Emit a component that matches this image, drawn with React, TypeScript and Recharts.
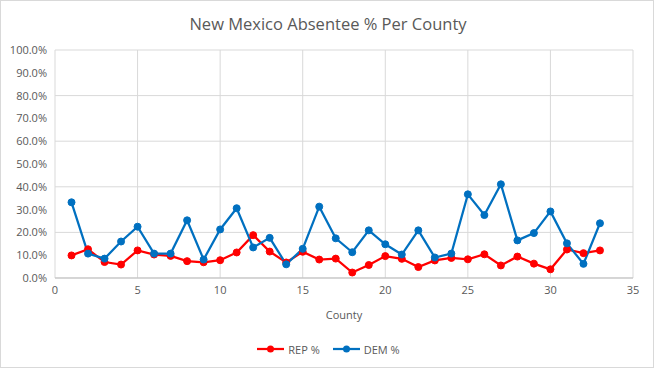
import React from "react";
import { LineChart, Line, XAxis, YAxis, CartesianGrid, Legend } from "recharts";

const counties = [1, 2, 3, 4, 5, 6, 7, 8, 9, 10, 11, 12, 13, 14, 15, 16, 17, 18, 19, 20, 21, 22, 23, 24, 25, 26, 27, 28, 29, 30, 31, 32, 33];
const repPct = [9.9, 12.6, 7.0, 5.9, 12.1, 10.3, 9.7, 7.4, 6.9, 7.8, 11.2, 18.8, 11.6, 6.8, 11.5, 8.1, 8.5, 2.4, 5.7, 9.6, 8.4, 4.8, 7.7, 8.8, 8.2, 10.4, 5.5, 9.4, 6.3, 3.8, 12.5, 10.9, 12.1];
const demPct = [33.2, 10.7, 8.5, 16.0, 22.5, 10.7, 10.7, 25.3, 8.1, 21.3, 30.6, 13.4, 17.6, 6.0, 12.8, 31.3, 17.4, 11.3, 20.9, 14.8, 10.3, 20.9, 9.0, 10.7, 36.7, 27.6, 41.1, 16.5, 19.7, 29.2, 15.2, 6.2, 24.0];
const xTicks = [0, 5, 10, 15, 20, 25, 30, 35];
const yTicks = [0, 10, 20, 30, 40, 50, 60, 70, 80, 90, 100];
const seriesNames = ["REP %", "DEM %"];
const seriesColors = ["#ff0000", "#0070c0"];

const data = counties.map((c, i) => ({ county: c, rep: repPct[i], dem: demPct[i] }));

const font = "'Open Sans', 'Liberation Sans', sans-serif";
const tick = { fontSize: 11, fill: "#595959", fontFamily: font };

function LegendBox() {
  return (
    <div
      style={{
        height: 30,
        paddingLeft: 24,
        display: "flex",
        justifyContent: "center",
        alignItems: "center",
        gap: 13,
        fontFamily: font,
        fontSize: 11,
        color: "#595959",
      }}
    >
      {seriesNames.map((name, i) => (
        <div key={name} style={{ display: "flex", alignItems: "center", gap: 4 }}>
          <svg width={27} height={10}>
            <line x1={0} y1={5} x2={27} y2={5} stroke={seriesColors[i]} strokeWidth={2.25} />
            <circle cx={13.5} cy={5} r={3.5} fill={seriesColors[i]} />
          </svg>
          <span>{name}</span>
        </div>
      ))}
    </div>
  );
}

export default function App() {
  return (
    <div
      style={{
        position: "fixed",
        left: 0,
        top: 0,
        width: 654,
        height: 368,
        background: "#fff",
        boxSizing: "border-box",
        border: "1px solid #d9d9d9",
      }}
    >
      <div
        style={{
          position: "absolute",
          top: 11,
          left: 0,
          width: 654,
          textAlign: "center",
          fontFamily: font,
          fontSize: 16.5,
          color: "#595959",
        }}
      >
        New Mexico Absentee % Per County
      </div>
      <div style={{ position: "absolute", left: -1, top: -1 }}>
        <LineChart width={654} height={368} data={data} margin={{ top: 50, right: 21, left: 0, bottom: 4 }}>
          <CartesianGrid stroke="#d9d9d9" />
          <XAxis
            type="number"
            dataKey="county"
            domain={[0, 35]}
            ticks={xTicks}
            tick={tick}
            tickLine={false}
            axisLine={{ stroke: "#bfbfbf" }}
            height={56}
            label={{ value: "County", position: "insideTop", offset: 33, fontSize: 11, fill: "#595959", fontFamily: font }}
          />
          <YAxis
            type="number"
            domain={[0, 100]}
            ticks={yTicks}
            tick={tick}
            tickLine={false}
            axisLine={false}
            width={55}
            tickFormatter={(v) => `${Number(v).toFixed(1)}%`}
          />
          <Legend verticalAlign="bottom" height={30} content={() => <LegendBox />} />
          <Line
            name="REP %"
            dataKey="rep"
            stroke="#ff0000"
            strokeWidth={2.25}
            dot={{ r: 3.5, fill: "#ff0000", stroke: "#ff0000", strokeWidth: 1 }}
            isAnimationActive={false}
          />
          <Line
            name="DEM %"
            dataKey="dem"
            stroke="#0070c0"
            strokeWidth={2.25}
            dot={{ r: 3.5, fill: "#0070c0", stroke: "#0070c0", strokeWidth: 1 }}
            isAnimationActive={false}
          />
        </LineChart>
      </div>
    </div>
  );
}
